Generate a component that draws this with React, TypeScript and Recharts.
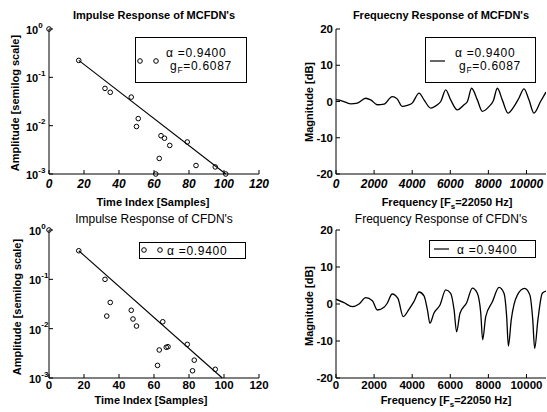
import React from 'react';
import { ComposedChart, Line, Scatter, XAxis, YAxis } from 'recharts';

// ---------- Data ----------
const mcfdnImpulseTime = [0, 17, 32, 35, 47, 50, 51, 61, 63, 64, 66, 69, 79, 84, 95, 101];
const mcfdnImpulseAmp = [1, 0.224, 0.059, 0.049, 0.039, 0.0096, 0.014, 0.001, 0.0021, 0.0062, 0.0055, 0.0039, 0.0046, 0.0015, 0.0014, 0.001];
const mcfdnFitTime = [17, 101];
const mcfdnFitAmp = [0.224, 0.001];

const cfdnImpulseTime = [0, 17, 32, 33, 35, 47, 48, 50, 62, 63, 65, 67, 68, 79, 82, 83, 95];
const cfdnImpulseAmp = [1, 0.38, 0.1, 0.018, 0.034, 0.0236, 0.0157, 0.0113, 0.0018, 0.0037, 0.0138, 0.0042, 0.0043, 0.0048, 0.0014, 0.0023, 0.0015];
const cfdnFitTime = [17, 99];
const cfdnFitAmp = [0.38, 0.001];

const mcfdnFreq = [0, 300, 770, 1120, 1560, 1820, 2170, 2520, 2950, 3210, 3480, 3740, 4000, 4360, 4620, 4970, 5320, 5500, 5760, 6020, 6370, 6720, 6900, 7120, 7420, 7680, 8030, 8260, 8470, 8730, 9030, 9340, 9600, 9870, 10130, 10390, 10740, 11025];
const mcfdnMag = [0.5, 0.2, -0.64, -0.45, 0.9, 0.45, -0.9, -0.73, 1.37, 0.73, -1.37, -1.1, -0.45, 2.3, 0.45, -1.8, -0.9, 0, 3.2, 0.45, -2.3, -0.9, 0, 3.65, 0.45, -2.7, -1.4, 0.2, 3.65, 0.45, -3.2, -1.4, 0.9, 3.5, 0.45, -3.2, 0, 2.6];

const cfdnFreq = [0, 420, 860, 1210, 1560, 1910, 2170, 2520, 2690, 2950, 3250, 3530, 3830, 4090, 4360, 4620, 4800, 4930, 5140, 5460, 5760, 6020, 6200, 6330, 6510, 6860, 7160, 7420, 7600, 7700, 7860, 8210, 8560, 8820, 8960, 9050, 9200, 9520, 9900, 10180, 10330, 10430, 10600, 10830, 11025];
const cfdnMag = [1.3, 0.36, -0.72, 0, 1.7, 0.9, -1.62, -0.9, 0.2, 2.7, 1.5, -3.4, -1.44, 0.63, 3.24, 2.2, -1.6, -5.2, -2.5, -0.27, 3.8, 2.9, -1.6, -7.5, -2.5, 0.36, 4.3, 2.9, -2.5, -9.7, -3.4, 0.6, 4.5, 2.9, -3.4, -11.35, -4.3, 2.4, 4.2, 2.4, -4.3, -12, -4.3, 2.9, 3.5];

const timeTicks = [0, 20, 40, 60, 80, 100, 120];
const logTicks = [0.001, 0.01, 0.1, 1];
const freqTicks = [0, 2000, 4000, 6000, 8000, 10000];
const dbTicks = [-20, -10, 0, 10, 20];

const zip = (xs: number[], ys: number[]) => xs.map((x, i) => ({ x, y: ys[i] }));

const FONT = '"Liberation Sans", Arial, Helvetica, sans-serif';

function LogTick(props: any) {
  const { y, payload, startX } = props;
  const exp = Math.round(Math.log10(payload.value));
  return (
    <text x={startX} y={y} fontFamily={FONT} fontSize={11} fontWeight="bold" fill="#000">
      <tspan dy="0.45em">10</tspan>
      <tspan dy="-0.8em" fontSize={8}>{String(exp)}</tspan>
    </text>
  );
}

const circleShape = (p: any) => (
  <circle cx={p.cx} cy={p.cy} r={2.3} fill="none" stroke="#000" strokeWidth={1} />
);

const tickStyleItalic = { fontFamily: FONT, fontSize: 12, fontWeight: 'bold', fontStyle: 'italic', fill: '#000' } as any;
const tickStyle = { fontFamily: FONT, fontSize: 11.5, fontWeight: 'bold', fill: '#000' } as any;
const yTickStyle = { fontFamily: FONT, fontSize: 11.5, fontWeight: 'bold', fill: '#000' } as any;

function ImpulseChart(props: { height: number; top: number; bottom: number; points: any[]; fit: any[]; startX: number; italic: boolean; tm: number }) {
  const { height, top, bottom, points, fit, startX, italic, tm } = props;
  return (
    <ComposedChart width={275} height={height} margin={{ top, right: 16, bottom, left: 0 }}>
      <XAxis dataKey="x" type="number" domain={[0, 120]} ticks={timeTicks}
        tickSize={-4} tickMargin={tm} tick={italic ? tickStyleItalic : tickStyle} stroke="#000" height={30} interval={0} />
      <XAxis xAxisId="top" orientation="top" dataKey="x" type="number" domain={[0, 120]} ticks={timeTicks}
        tickSize={-4} tick={false} stroke="#000" height={0} />
      <YAxis dataKey="y" type="number" scale="log" domain={[0.001, 1]} ticks={logTicks}
        width={49} tickSize={-4} tick={<LogTick startX={startX} />} stroke="#000" interval={0} />
      <YAxis yAxisId="right" orientation="right" dataKey="y" type="number" scale="log" domain={[0.001, 1]}
        ticks={logTicks} width={0} tickSize={-4} tick={false} stroke="#000" />
      <Line data={fit} dataKey="y" type="linear" stroke="#000" strokeWidth={1.1} dot={false} isAnimationActive={false} />
      <Scatter data={points} dataKey="y" shape={circleShape} isAnimationActive={false} />
    </ComposedChart>
  );
}

function FreqChart(props: { height: number; top: number; bottom: number; points: any[]; italic: boolean; tm: number }) {
  const { height, top, bottom, points, italic, tm } = props;
  return (
    <ComposedChart width={275} height={height} margin={{ top, right: 1, bottom, left: 0 }}>
      <XAxis dataKey="x" type="number" domain={[0, 11025]} ticks={freqTicks} allowDataOverflow
        tickSize={-4} tickMargin={tm} tick={italic ? tickStyleItalic : tickStyle} stroke="#000" height={30} interval={0} />
      <XAxis xAxisId="top" orientation="top" dataKey="x" type="number" domain={[0, 11025]} ticks={freqTicks}
        allowDataOverflow tickSize={-4} tick={false} stroke="#000" height={0} />
      <YAxis dataKey="y" type="number" domain={[-20, 20]} ticks={dbTicks} allowDataOverflow
        width={64} tickSize={-4} tickMargin={7} tick={yTickStyle} stroke="#000" interval={0} />
      <YAxis yAxisId="right" orientation="right" dataKey="y" type="number" domain={[-20, 20]}
        ticks={dbTicks} allowDataOverflow width={0} tickSize={-4} tick={false} stroke="#000" />
      <Line data={points} dataKey="y" type="monotone" stroke="#000" strokeWidth={1.3} dot={false} isAnimationActive={false} />
    </ComposedChart>
  );
}

export default function App() {
  const titleBold = { fontFamily: FONT, fontSize: 11, fontWeight: 'bold' as const, fill: '#000' };
  const title2 = { fontFamily: FONT, fontSize: 12, fill: '#000' };
  const labelBold = { fontFamily: FONT, fontSize: 11, fontWeight: 'bold' as const, fill: '#000' };
  const legendText = { fontFamily: FONT, fontSize: 12, letterSpacing: 0.7, fill: '#000' };
  return (
    <div style={{ position: 'relative', width: 547, height: 412, background: '#fff', overflow: 'hidden' }}>
      <style>{`body{margin:0;background:#fff}`}</style>
      <div style={{ position: 'absolute', left: 0, top: 0 }}>
        <ImpulseChart height={205} top={29} bottom={1} points={zip(mcfdnImpulseTime, mcfdnImpulseAmp)}
          fit={zip(mcfdnFitTime, mcfdnFitAmp)} startX={26} italic={true} tm={9} />
      </div>
      <div style={{ position: 'absolute', left: 272, top: 0 }}>
        <FreqChart height={205} top={29} bottom={1} points={zip(mcfdnFreq, mcfdnMag)} italic={true} tm={9} />
      </div>
      <div style={{ position: 'absolute', left: 0, top: 205 }}>
        <ImpulseChart height={207} top={25} bottom={4} points={zip(cfdnImpulseTime, cfdnImpulseAmp)}
          fit={zip(cfdnFitTime, cfdnFitAmp)} startX={29} italic={false} tm={7} />
      </div>
      <div style={{ position: 'absolute', left: 272, top: 205 }}>
        <FreqChart height={207} top={25} bottom={4} points={zip(cfdnFreq, cfdnMag)} italic={false} tm={7} />
      </div>
      <svg width={547} height={412} style={{ position: 'absolute', left: 0, top: 0, pointerEvents: 'none' }}>
        {/* Titles */}
        <text x={154} y={19} textAnchor="middle" {...titleBold}>Impulse Response of MCFDN's</text>
        <text x={441} y={19} textAnchor="middle" {...titleBold}>Frequecny Response of MCFDN's</text>
        <text x={154} y={223} textAnchor="middle" {...title2}>Impulse Response of CFDN's</text>
        <text x={441} y={223} textAnchor="middle" {...title2}>Frequency Response of CFDN's</text>
        {/* X labels */}
        <text x={153} y={206} textAnchor="middle" {...labelBold}>Time Index [Samples]</text>
        <text x={447} y={206} textAnchor="middle" {...labelBold}>Frequency [F<tspan fontSize={8} dy={3}>s</tspan><tspan dy={-3}>=22050 Hz]</tspan></text>
        <text x={151} y={404} textAnchor="middle" {...labelBold}>Time Index [Samples]</text>
        <text x={446} y={404} textAnchor="middle" {...labelBold}>Frequency [F<tspan fontSize={8} dy={3}>s</tspan><tspan dy={-3}>=22050 Hz]</tspan></text>
        {/* Y labels */}
        <text transform="translate(19,103) rotate(-90)" textAnchor="middle" {...labelBold}>Amplitude [semilog scale]</text>
        <text transform="translate(21,307) rotate(-90)" textAnchor="middle" {...labelBold}>Amplitude [semilog scale]</text>
        <text transform="translate(313,102) rotate(-90)" textAnchor="middle" {...labelBold}>Magnitude [dB]</text>
        <text transform="translate(313,306) rotate(-90)" textAnchor="middle" {...labelBold}>Magnitude [dB]</text>
        {/* Legend top-left */}
        <rect x={135.5} y={37.5} width={111} height={45} fill="#fff" stroke="#000" strokeWidth={1} />
        <circle cx={140} cy={61} r={2.3} fill="none" stroke="#000" />
        <circle cx={156} cy={61} r={2.3} fill="none" stroke="#000" />
        <text x={166} y={56.5} {...legendText}>α =0.9400</text>
        <text x={170} y={69.5} {...legendText}>g<tspan fontSize={8.5} dy={3}>F</tspan><tspan dy={-3}>=0.6087</tspan></text>
        {/* Legend top-right */}
        <rect x={425.5} y={37.5} width={110} height={45} fill="#fff" stroke="#000" strokeWidth={1} />
        <line x1={430} y1={61} x2={445} y2={61} stroke="#000" strokeWidth={1.2} />
        <text x={455} y={56.5} {...legendText}>α =0.9400</text>
        <text x={459} y={69.5} {...legendText}>g<tspan fontSize={8.5} dy={3}>F</tspan><tspan dy={-3}>=0.6087</tspan></text>
        {/* Legend bottom-left */}
        <rect x={139.5} y={242.5} width={106} height={16} fill="#fff" stroke="#000" strokeWidth={1} />
        <circle cx={144} cy={250} r={2.3} fill="none" stroke="#000" />
        <circle cx={160} cy={250} r={2.3} fill="none" stroke="#000" />
        <text x={167} y={255} {...legendText}>α =0.9400</text>
        {/* Legend bottom-right */}
        <rect x={429.5} y={240.5} width={106} height={17} fill="#fff" stroke="#000" strokeWidth={1} />
        <line x1={434} y1={249} x2={449} y2={249} stroke="#000" strokeWidth={1.2} />
        <text x={457} y={254} {...legendText}>α =0.9400</text>
      </svg>
    </div>
  );
}
